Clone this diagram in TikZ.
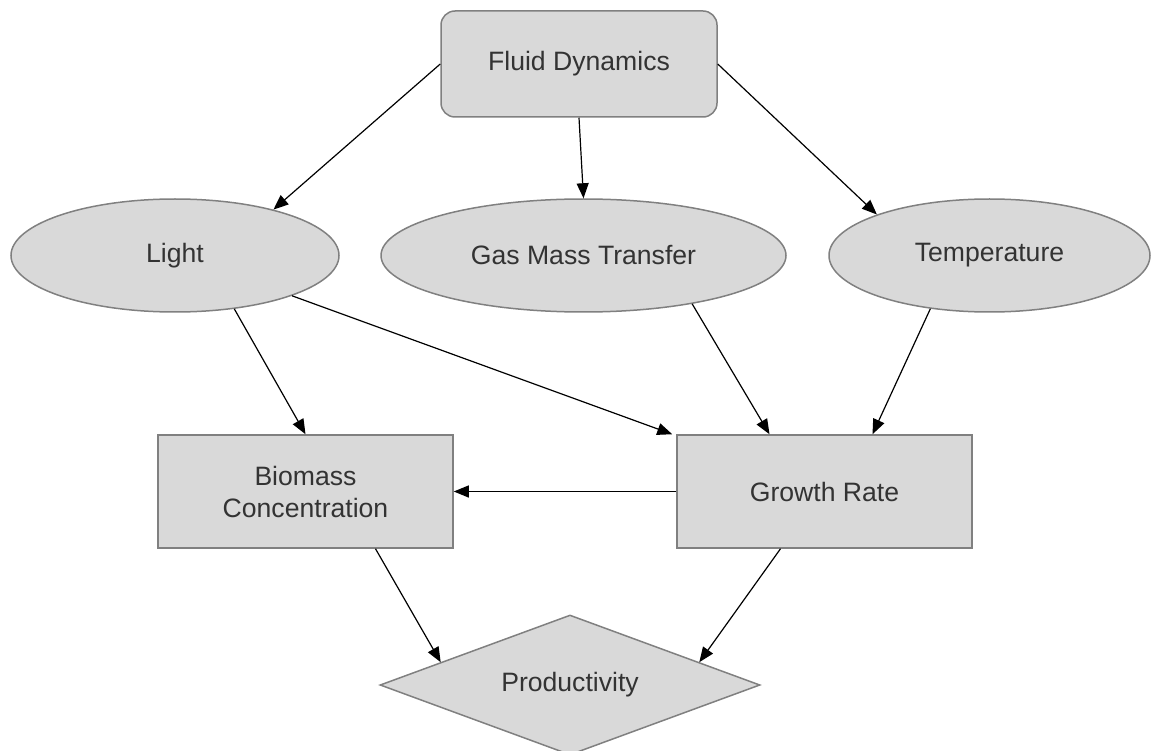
\documentclass[tikz,border=0pt]{standalone}
\usepackage{fontspec}
\setmainfont{Liberation Sans}
\usetikzlibrary{shapes.geometric, arrows.meta}
\definecolor{boxfill}{HTML}{D9D9D9}
\definecolor{boxline}{HTML}{808080}
\definecolor{boxtext}{HTML}{333333}
\tikzset{
  factor/.style={draw=boxline, fill=boxfill, text=boxtext, line width=1.5pt,
    font=\fontsize{26.6}{32}\selectfont, inner sep=0pt},
  factoroval/.style={factor, ellipse, minimum height=113pt},
  rectbox/.style={factor, rectangle, minimum width=295pt, minimum height=113pt, align=center},
}
\begin{document}
\begin{tikzpicture}[x=1pt, y=-1pt, >={Triangle[length=15pt,width=12pt]}, line width=1.2pt]
    \useasboundingbox (0,0) rectangle (1151,751);

    \node[factor, rounded corners=14pt, minimum width=276pt, minimum height=106pt] (fluid) at (579,64) {Fluid Dynamics};

    \node[factoroval, minimum width=328pt] (light) at (175,255.5) {Light};
    \node[factoroval, minimum width=405pt] (gas) at (583.5,255.5) {Gas Mass Transfer};
    \node[factoroval, minimum width=321pt] (temp) at (989.5,255.5) {Temperature};

    \node[rectbox] (biomass) at (305.5,491.5) {Biomass\\Concentration};
    \node[rectbox] (growth) at (824.5,491.5) {Growth Rate};

    \node[factor, diamond, aspect=2.7, minimum width=380pt, minimum height=140pt] (prod) at (570,685) {Productivity};

    \draw[->] (fluid.west) -- (light.25);
    \draw[->] (fluid.south) -- (gas.north);
    \draw[->] (fluid.east) -- (temp.160);

    \draw[->] (light.-42) -- (biomass.north);
    \draw[->] (light.-19) -- ([xshift=-4pt]growth.north west);
    \draw[->] (gas.-24) -- ([xshift=-55pt]growth.north);
    \draw[->] (temp.-138) -- ([xshift=48pt]growth.north);

    \draw[->] (growth.west) -- (biomass.east);

    \draw[->] ([xshift=70pt]biomass.south) -- (prod.170);
    \draw[->] ([xshift=-44pt]growth.south) -- (prod.10);
\end{tikzpicture}
\end{document}
